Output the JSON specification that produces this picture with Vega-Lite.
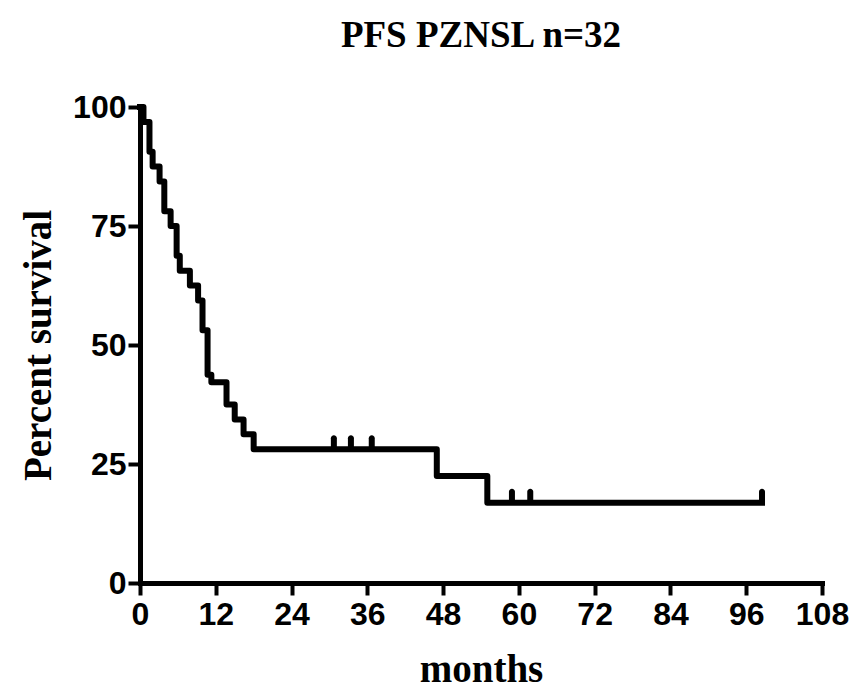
{
  "$schema": "https://vega.github.io/schema/vega-lite/v6.json",
  "autosize": {"type": "none"},
  "width": 682,
  "height": 476,
  "padding": {"left": 140, "top": 107, "right": 29, "bottom": 110},
  "background": "white",
  "title": {
    "text": "PFS PZNSL n=32",
    "font": "Liberation Serif",
    "fontSize": 37,
    "fontWeight": "bold",
    "color": "black",
    "anchor": "middle",
    "offset": 36
  },
  "datasets": {
    "curve": [
      {"months": 0, "survival": 100},
      {"months": 0.55, "survival": 96.875},
      {"months": 1.5, "survival": 90.625},
      {"months": 2.0, "survival": 87.5},
      {"months": 3.1, "survival": 84.375},
      {"months": 3.85, "survival": 78.125},
      {"months": 4.85, "survival": 75},
      {"months": 5.8, "survival": 68.75},
      {"months": 6.3, "survival": 65.625},
      {"months": 7.9, "survival": 62.5},
      {"months": 9.2, "survival": 59.375},
      {"months": 9.9, "survival": 53.125},
      {"months": 10.7, "survival": 43.75},
      {"months": 11.3, "survival": 42.2},
      {"months": 13.7, "survival": 37.5},
      {"months": 15.0, "survival": 34.375},
      {"months": 16.4, "survival": 31.25},
      {"months": 18.0, "survival": 28.125},
      {"months": 47.0, "survival": 22.5},
      {"months": 55.0, "survival": 16.875},
      {"months": 98.5, "survival": 16.875}
    ],
    "censored": [
      {"months": 30.7, "survival": 28.125},
      {"months": 33.4, "survival": 28.125},
      {"months": 36.7, "survival": 28.125},
      {"months": 58.9, "survival": 16.875},
      {"months": 61.8, "survival": 16.875},
      {"months": 98.5, "survival": 16.875}
    ]
  },
  "config": {
    "view": {"stroke": null},
    "axis": {
      "domainColor": "black",
      "domainWidth": 5,
      "domainCap": "square",
      "tickColor": "black",
      "tickWidth": 4,
      "tickSize": 12,
      "grid": false,
      "labelFont": "Liberation Sans",
      "labelFontWeight": "bold",
      "labelFontSize": 32,
      "labelColor": "black",
      "titleFont": "Liberation Serif",
      "titleFontWeight": "bold",
      "titleFontSize": 39,
      "titleColor": "black"
    }
  },
  "layer": [
    {
      "data": {"name": "curve"},
      "mark": {"type": "line", "interpolate": "step-after", "color": "black", "strokeWidth": 6, "strokeJoin": "round", "strokeCap": "square"},
      "encoding": {
        "x": {
          "field": "months",
          "type": "quantitative",
          "scale": {"domain": [0, 108], "nice": false, "zero": true},
          "axis": {"values": [0, 12, 24, 36, 48, 60, 72, 84, 96, 108], "title": "months", "labelPadding": 4, "titlePadding": 20, "labelFlush": false}
        },
        "y": {
          "field": "survival",
          "type": "quantitative",
          "scale": {"domain": [0, 100], "nice": false},
          "axis": {"values": [0, 25, 50, 75, 100], "title": "Percent survival", "labelPadding": 2, "titlePadding": 14}
        }
      }
    },
    {
      "data": {"name": "censored"},
      "mark": {"type": "tick", "orient": "vertical", "color": "black", "opacity": 1, "fillOpacity": 1, "size": 16, "thickness": 6, "yOffset": -6, "cornerRadius": 3},
      "encoding": {
        "x": {"field": "months", "type": "quantitative"},
        "y": {"field": "survival", "type": "quantitative"}
      }
    }
  ]
}
